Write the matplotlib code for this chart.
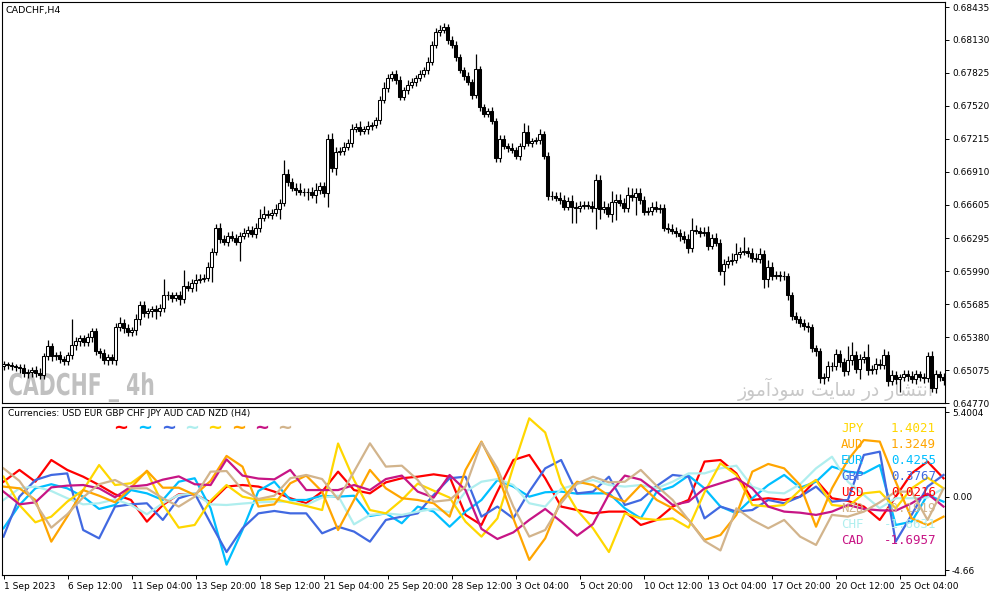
import numpy as np
import matplotlib.pyplot as plt
from matplotlib.textpath import TextPath
from matplotlib.patches import PathPatch
from matplotlib.font_manager import FontProperties
from matplotlib.transforms import Affine2D

# ---------------- data: CADCHF H4 candles (close + wick sizes in pips) ----------------
first_open = 0.65110
closes = [
    0.65127, 0.65118, 0.65109, 0.65100, 0.65090, 0.65044, 0.65053, 0.65072, 0.65044, 0.65026,
    0.65201, 0.65294, 0.65201, 0.65211, 0.65174, 0.65155, 0.65211, 0.65303, 0.65340, 0.65368,
    0.65331, 0.65377, 0.65432, 0.65248, 0.65229, 0.65164, 0.65192, 0.65164, 0.65469, 0.65515,
    0.65460, 0.65423, 0.65442, 0.65543, 0.65673, 0.65599, 0.65617, 0.65636, 0.65626, 0.65645,
    0.65765, 0.65765, 0.65746, 0.65765, 0.65728, 0.65857, 0.65839, 0.65885, 0.65913, 0.65922,
    0.65931, 0.66033, 0.66172, 0.66393, 0.66292, 0.66264, 0.66319, 0.66301, 0.66264, 0.66319,
    0.66347, 0.66375, 0.66338, 0.66393, 0.66486, 0.66523, 0.66513, 0.66532, 0.66569, 0.66624,
    0.66892, 0.66818, 0.66763, 0.66744, 0.66726, 0.66726, 0.66726, 0.66698, 0.66744, 0.66781,
    0.66717, 0.67216, 0.66948, 0.67096, 0.67105, 0.67142, 0.67179, 0.67308, 0.67327, 0.67290,
    0.67308, 0.67336, 0.67345, 0.67391, 0.67576, 0.67687, 0.67779, 0.67816, 0.67761, 0.67604,
    0.67668, 0.67715, 0.67742, 0.67779, 0.67816, 0.67853, 0.67927, 0.68084, 0.68204, 0.68223,
    0.68251, 0.68130, 0.68084, 0.67973, 0.67853, 0.67798, 0.67742, 0.67622, 0.67862, 0.67511,
    0.67447, 0.67474, 0.67382, 0.67040, 0.67216, 0.67151, 0.67133, 0.67114, 0.67059, 0.67151,
    0.67280, 0.67179, 0.67197, 0.67206, 0.67262, 0.67059, 0.66689, 0.66689, 0.66670, 0.66652,
    0.66587, 0.66643, 0.66587, 0.66578, 0.66597, 0.66606, 0.66597, 0.66578, 0.66837, 0.66569,
    0.66587, 0.66523, 0.66634, 0.66652, 0.66624, 0.66578, 0.66698, 0.66680, 0.66717, 0.66652,
    0.66541, 0.66550, 0.66587, 0.66569, 0.66578, 0.66393, 0.66384, 0.66366, 0.66347, 0.66319,
    0.66292, 0.66209, 0.66375, 0.66366, 0.66347, 0.66356, 0.66227, 0.66301, 0.66255, 0.65996,
    0.66061, 0.66088, 0.66098, 0.66153, 0.66172, 0.66181, 0.66162, 0.66116, 0.66107, 0.66153,
    0.65922, 0.66033, 0.65950, 0.65959, 0.65941, 0.65941, 0.65765, 0.65571, 0.65543, 0.65515,
    0.65479, 0.65469, 0.65275, 0.65248, 0.64998, 0.65007, 0.65109, 0.65109, 0.65220, 0.65146,
    0.65063, 0.65164, 0.65211, 0.65081, 0.65174, 0.65192, 0.65072, 0.65081, 0.65127, 0.65118,
    0.65211, 0.64970, 0.65026, 0.64989, 0.65007, 0.65035, 0.65017, 0.64989, 0.65035, 0.65007,
    0.64998, 0.65201, 0.64906, 0.65035, 0.65007, 0.64980,
]
up_wick = [
    3, 2, 3, 2, 3, 4, 3, 3, 4, 5, 3, 6, 3, 3, 4, 3, 3, 24, 4, 3,
    3, 4, 3, 3, 3, 4, 3, 3, 4, 5, 3, 4, 3, 5, 4, 4, 3, 3, 4, 4,
    15, 4, 3, 3, 4, 14, 4, 3, 5, 4, 3, 4, 3, 3, 4, 3, 3, 4, 3, 3,
    4, 3, 3, 4, 8, 7, 3, 3, 4, 3, 13, 4, 3, 4, 6, 3, 3, 4, 6, 3,
    3, 4, 5, 4, 3, 4, 3, 4, 3, 5, 3, 4, 3, 3, 4, 5, 4, 3, 4, 4,
    3, 4, 4, 3, 4, 3, 5, 4, 4, 5, 4, 3, 4, 4, 3, 3, 4, 3, 14, 3,
    3, 3, 4, 3, 3, 3, 3, 4, 3, 3, 8, 6, 3, 3, 4, 3, 3, 4, 3, 5,
    4, 3, 5, 4, 4, 3, 3, 4, 5, 4, 5, 3, 10, 5, 5, 4, 7, 6, 4, 4,
    3, 3, 4, 5, 3, 3, 4, 4, 3, 3, 4, 4, 11, 4, 3, 4, 5, 3, 4, 3,
    4, 4, 6, 10, 4, 13, 3, 4, 4, 5, 3, 6, 4, 3, 3, 5, 3, 3, 4, 3,
    3, 4, 3, 3, 3, 4, 5, 4, 5, 4, 4, 13, 12, 4, 5, 6, 12, 4, 6, 5,
    6, 4, 5, 4, 3, 4, 4, 5, 4, 3, 4, 4, 5, 4, 3, 4,
]
dn_wick = [
    3, 3, 3, 3, 4, 3, 4, 4, 3, 3, 3, 3, 4, 3, 3, 3, 3, 3, 4, 4,
    3, 3, 4, 3, 4, 3, 4, 3, 4, 3, 4, 3, 3, 4, 5, 3, 4, 5, 8, 5,
    3, 4, 4, 3, 5, 3, 3, 4, 8, 3, 3, 3, 14, 3, 4, 3, 4, 3, 3, 18,
    3, 4, 3, 4, 4, 3, 3, 4, 3, 10, 3, 4, 3, 5, 3, 4, 8, 3, 8, 4,
    4, 13, 4, 7, 3, 4, 3, 4, 3, 4, 3, 5, 4, 3, 4, 3, 4, 3, 4, 3,
    3, 4, 3, 4, 3, 3, 4, 3, 3, 4, 3, 4, 3, 4, 3, 4, 3, 4, 3, 4,
    3, 3, 3, 4, 4, 3, 4, 3, 3, 4, 3, 3, 4, 3, 4, 3, 4, 4, 3, 4,
    3, 3, 15, 14, 4, 3, 3, 4, 20, 10, 4, 3, 8, 17, 3, 4, 4, 4, 17, 4,
    3, 3, 4, 3, 4, 3, 4, 3, 4, 5, 4, 5, 4, 3, 4, 3, 4, 3, 3, 4,
    13, 4, 4, 3, 4, 3, 4, 4, 3, 4, 9, 8, 4, 3, 4, 3, 4, 3, 3, 4,
    3, 4, 3, 4, 4, 5, 3, 4, 3, 4, 4, 3, 4, 3, 9, 3, 4, 3, 4, 3,
    3, 4, 3, 4, 12, 3, 4, 3, 4, 3, 4, 3, 3, 4, 3, 4,
]

price_ticks = [0.68435, 0.68130, 0.67825, 0.67520, 0.67215, 0.66910, 0.66605,
               0.66295, 0.65990, 0.65685, 0.65380, 0.65075, 0.64770]
date_labels = ['1 Sep 2023', '6 Sep 12:00', '11 Sep 04:00', '13 Sep 20:00', '18 Sep 12:00',
               '21 Sep 04:00', '25 Sep 20:00', '28 Sep 12:00', '3 Oct 04:00', '5 Oct 20:00',
               '10 Oct 12:00', '13 Oct 04:00', '17 Oct 20:00', '20 Oct 12:00', '25 Oct 04:00']

# ---------------- data: currency strength indicator (sampled) ----------------
usd = [0.97, 1.72, 0.97, 2.35, 1.72, 1.29, 0.76, 0.17, -0.19, -1.57,
       -0.51, 0.17, 0.17, -0.34, 0.66, 0.76, 0.66, 0.34, -0.08, -0.40,
       0.34, 1.61, 0.44, 0.23, 0.93, 1.19, 1.29, 1.44, 1.29, -1.14,
       -1.78, 0.34, 2.35, 2.67, 1.19, -0.61, -0.83, -1.04, -0.93, -0.93,
       -1.78, -1.46, -0.61, -0.19, 2.25, 2.35, 1.50, -0.19, -0.08, -0.19,
       0.02, 1.08, -0.08, -0.25, -0.61, -1.46, 0.02, 1.50, 2.25, 1.19]
eur = [-1.99, -0.51, 0.55, 0.81, 0.55, 0.02, -0.76, -0.51, 0.44, 0.23,
       -0.19, 0.97, 1.19, -0.72, -4.30, -2.10, 0.38, 0.97, -0.19, -0.19,
       0.08, 0.02, 0.08, -1.21, -1.04, -1.67, -0.61, -0.93, -1.89, -0.93,
       -0.19, 1.08, 0.66, 0.02, 0.30, 0.34, 0.21, 0.23, 0.23, -0.72,
       -1.36, 0.34, 0.66, 1.36, 0.55, -0.61, -1.04, -0.08, 0.76, 1.40,
       0.59, 0.97, 1.93, 1.61, 1.50, 2.03, -1.78, -1.57, 0.13, -0.30]
gbp = [-2.52, 0.02, 1.08, 1.40, 1.50, -2.10, -2.63, -0.61, -0.47, -0.40,
       -1.46, -0.08, 0.23, -1.67, -3.50, -1.99, -1.04, -0.89, -1.04, -1.04,
       -2.31, -1.89, -2.20, -2.84, -1.46, -1.25, -1.04, 0.13, 1.19, 1.29,
       -1.25, -0.61, -1.36, 0.34, 1.82, 2.35, 0.23, 0.34, 1.29, -0.51,
       -0.19, 0.70, 1.40, 1.29, -1.36, -0.61, -0.93, -0.83, -0.19, -0.40,
       0.02, 0.66, -0.30, -0.19, 2.67, 2.88, -2.84, -1.14, 0.66, 1.40]
chf = [-0.19, 0.55, 0.66, 0.38, -0.08, -0.47, -0.40, -0.15, -0.51, -1.10,
       -0.40, 0.13, 0.23, -0.47, -0.51, -0.42, -0.34, -0.30, -0.30, -0.51,
       -0.04, 0.08, -1.74, -1.14, -1.04, -1.14, -0.93, -0.76, -0.97, 0.34,
       0.97, 1.14, 0.76, -0.40, -0.61, 0.51, 0.81, 1.08, 0.76, 0.66,
       0.76, 0.55, 0.97, 1.50, 1.50, 1.82, 1.99, 0.66, 0.30, 0.23,
       0.81, 1.82, 2.56, 0.97, 0.13, -0.72, -0.08, -0.08, -0.04, 0.55]
jpy = [1.29, -0.51, -1.61, -1.25, -0.30, 0.44, 2.03, 0.76, 0.87, 1.61,
       -0.47, -1.95, -1.78, -0.23, 0.76, 0.02, -0.19, -0.13, -0.36, -0.57,
       -0.83, 3.40, 1.08, -0.83, -1.04, -0.19, 0.85, 0.40, -0.04, -1.57,
       -2.52, -1.36, 1.93, 5.00, 4.10, 0.87, -0.83, -1.99, -3.50, -1.04,
       -1.36, -1.46, -1.36, -1.95, 0.30, 2.14, 1.40, -0.51, -0.61, -0.51,
       0.44, 1.08, -0.51, -0.61, 0.23, 0.34, -0.72, 0.55, 1.23, 0.55]
aud = [0.66, 0.55, -0.19, -2.84, -1.25, 0.44, 0.08, -0.34, 0.59, 1.67,
       0.59, 0.59, 0.13, 1.02, 2.61, 1.93, -0.61, -0.47, 0.87, 1.36,
       0.34, -2.10, -0.19, 1.72, 0.55, -0.08, -0.19, -0.40, -1.25, 1.72,
       3.52, 1.50, -1.36, -4.00, -2.63, -0.19, 0.97, 0.76, 0.08, -0.30,
       0.76, -0.19, -0.72, -1.46, -2.73, -2.42, -1.14, 1.61, 2.10, 1.82,
       0.76, -1.89, 0.55, 2.35, 3.62, 3.52, 0.97, -1.36, -1.78, -1.25]
cad = [0.34, -0.47, -0.34, 0.61, 0.72, 0.76, 0.55, -0.02, 0.66, 0.76,
       1.10, 1.31, 0.81, 0.76, 2.39, 1.36, 1.17, 1.12, 1.72, 0.44,
       0.44, 0.44, 0.76, 0.44, 1.14, 1.36, 0.34, -0.04, 1.40, 0.44,
       -2.03, -2.67, -2.25, -1.46, -0.76, -1.57, -2.46, -1.72, 0.17, 1.36,
       1.10, 0.34, -0.51, -0.30, 0.55, 0.87, 1.19, 0.55, -0.61, -0.93,
       -1.00, -1.14, -0.93, -0.51, -0.76, -0.85, -0.87, -0.40, 0.21, -0.61]
nzd = [1.82, 1.02, -0.40, -1.95, -1.10, -0.02, 0.81, 1.08, 0.55, 0.55,
       -0.08, -0.61, 0.02, 1.61, 1.65, 0.44, -0.13, 0.08, 1.19, 1.40,
       1.14, -0.15, 1.61, 3.41, 1.93, 1.99, 1.08, -0.30, -0.19, 0.66,
       3.47, 1.82, -0.61, -2.52, -2.10, -0.40, 0.85, 1.29, 0.93, 0.97,
       1.72, 0.70, -0.19, -1.46, -2.80, -3.40, -0.72, -1.46, -1.99, -1.46,
       -2.52, -3.05, -1.14, -1.25, -0.93, -0.34, 0.34, 0.34, -1.46, 0.55]

currencies = ['USD', 'EUR', 'GBP', 'CHF', 'JPY', 'AUD', 'CAD', 'NZD']
cur_colors = ['#ff0000', '#00bfff', '#4169e1', '#afeeee', '#ffd700', '#ffa500', '#c71585', '#d2b48c']
series = [usd, eur, gbp, chf, jpy, aud, cad, nzd]

# current values list at the right (sorted as shown)
rank_names = ['JPY', 'AUD', 'EUR', 'GBP', 'USD', 'NZD', 'CHF', 'CAD']
rank_values = [1.4021, 1.3249, 0.4255, 0.3767, 0.0216, -0.1919, -1.6631, -1.6957]

# ---------------- layout ----------------
W, H = 991, 596
fig = plt.figure(figsize=(W / 100, H / 100), dpi=100)
fig.patch.set_facecolor('white')


def box(x0, y0, x1, y1):
    return [x0 / W, 1 - y1 / H, (x1 - x0) / W, (y1 - y0) / H]


def fx(px):
    return px / W


def fy(py):
    return 1 - py / H


ax = fig.add_axes(box(2, 2, 945, 403))
ax2 = fig.add_axes(box(2, 407, 945, 575), sharex=ax)

tick_font = dict(family='DejaVu Sans', size=6.5)

# ---------------- candles ----------------
closes = np.array(closes)
n = len(closes)
x = np.arange(n)
opens = np.r_[first_open, closes[:-1]]
hi = np.maximum(opens, closes) + np.array(up_wick) * 1e-4
lo = np.minimum(opens, closes) - np.array(dn_wick) * 1e-4

ax.vlines(x, lo, hi, color='black', lw=0.9, zorder=2)
bull = closes >= opens
ax.bar(x[bull], (closes - opens)[bull], bottom=opens[bull], width=0.62,
       facecolor='white', edgecolor='black', lw=0.75, zorder=3)
ax.bar(x[~bull], (opens - closes)[~bull], bottom=closes[~bull], width=0.62,
       facecolor='black', edgecolor='black', lw=0.75, zorder=3)

ax.set_xlim(-0.375, n - 0.625)
ax.set_ylim(0.647763, 0.684815)
ax.yaxis.tick_right()
ax.set_yticks(price_ticks)
ax.set_yticklabels(['%.5f' % p for p in price_ticks], fontdict=tick_font)
ax.tick_params(axis='y', direction='out', length=3, width=0.7, pad=2)
ax.tick_params(axis='x', bottom=False, labelbottom=False)
for s in ax.spines.values():
    s.set_linewidth(0.8)

# watermarks (drawn inside the price axes, under the candles)
fig.text(fx(6), fy(10), 'CADCHF,H4', fontsize=6.8, va='center', ha='left', family='DejaVu Sans')

# narrow bold symbol label: squeeze a DejaVu Bold outline horizontally
wm = TextPath((0, 0), 'CADCHF _ 4h', size=30,
              prop=FontProperties(family='DejaVu Sans', weight='bold'))
wm_tr = Affine2D().scale(0.68, 1.0).translate(8, H - 395)
ax.add_patch(PathPatch(wm, transform=wm_tr, facecolor='#c0c0c0', edgecolor='none', zorder=1))

fa_text = 'انتشار در سایت سودآموز'
# presentation forms in visual order so the glyphs join without a shaping engine
fa_forms = ['\ufe8d', '\ufee7', '\ufe98', '\ufeb8', '\ufe8e', '\ufead', ' ',
            '\ufea9', '\ufead', ' ',
            '\ufeb3', '\ufe8e', '\ufef3', '\ufe96', ' ',
            '\ufeb3', '\ufeee', '\ufea9', '\ufe81', '\ufee3', '\ufeee', '\ufeaf']
ax.text(fx(934), fy(389), ''.join(reversed(fa_forms)), fontsize=13.5, color='#c8c8c8',
        va='center', ha='right', family='DejaVu Sans', zorder=1, transform=fig.transFigure)

# ---------------- indicator ----------------
xi = np.linspace(0, n - 1, len(usd))
for vals, col in zip(series, cur_colors):
    ax2.plot(xi, vals, color=col, lw=1.6, solid_joinstyle='round')

ax2.set_ylim(-4.96, 5.72)
ax2.yaxis.tick_right()
ax2.set_yticks([5.4004, 0.0, -4.66])
ax2.set_yticklabels(['5.4004', '0.00', '-4.66'], fontdict=tick_font)
ax2.tick_params(axis='y', direction='out', length=3, width=0.7, pad=2)
for s in ax2.spines.values():
    s.set_linewidth(0.8)

xt = np.arange(0, n, 16)
ax2.set_xticks(xt)
ax2.set_xticklabels(date_labels, fontdict=tick_font, ha='left')
ax2.tick_params(axis='x', direction='out', length=3, width=0.7, pad=2)

fig.text(fx(8), fy(414), 'Currencies: ' + ' '.join(currencies) + ' (H4)',
         fontsize=6.5, va='center', ha='left', family='DejaVu Sans')
for px, col in zip([113, 137, 161, 184, 207, 231, 254, 277], cur_colors):
    fig.text(fx(px), fy(428), '~', fontsize=13, fontweight='bold', color=col,
             va='center', ha='left', family='DejaVu Sans')

name_col = dict(zip(currencies, cur_colors))
for k, (nm, v) in enumerate(zip(rank_names, rank_values)):
    yy = 428 + 16.1 * k
    fig.text(fx(841), fy(yy), nm, fontsize=9, color=name_col[nm], va='center', ha='left',
             family='DejaVu Sans Mono')
    fig.text(fx(936), fy(yy), '%.4f' % v, fontsize=9, color=name_col[nm], va='center',
             ha='right', family='DejaVu Sans Mono')

fig.savefig('out.png', dpi=100, facecolor='white')
